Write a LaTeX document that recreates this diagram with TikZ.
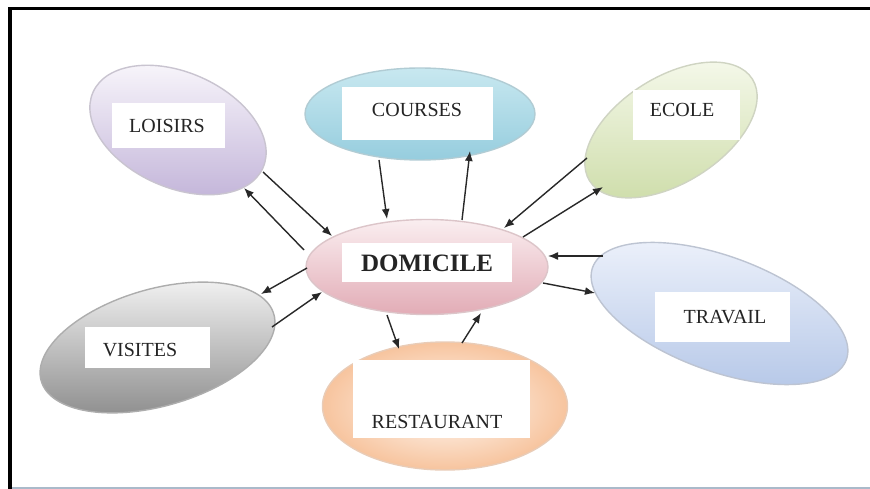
\documentclass[tikz,border=0pt]{standalone}
\usepackage{fontspec}
\setmainfont{Liberation Serif}
\usetikzlibrary{shapes.geometric,arrows.meta}

% fill colours of the bubbles
\definecolor{lavtop}{RGB}{250,248,252}
\definecolor{lavbot}{RGB}{196,182,218}
\definecolor{cyantop}{RGB}{200,232,240}
\definecolor{cyanbot}{RGB}{150,205,222}
\definecolor{greentop}{RGB}{246,249,236}
\definecolor{greenbot}{RGB}{206,221,170}
\definecolor{pinktop}{RGB}{250,238,240}
\definecolor{pinkbot}{RGB}{226,172,182}
\definecolor{peachin}{RGB}{255,250,246}
\definecolor{peachout}{RGB}{247,196,158}
\definecolor{greytop}{RGB}{246,246,246}
\definecolor{greybot}{RGB}{138,138,138}
\definecolor{bluetop}{RGB}{238,242,251}
\definecolor{bluebot}{RGB}{182,200,232}
\definecolor{inkgrey}{RGB}{36,36,36}
\definecolor{arrowgrey}{RGB}{40,40,40}
\definecolor{footgrey}{RGB}{170,186,202}

\tikzset{
  bubble/.style={ellipse, inner sep=0pt, line width=1.4pt},
  labelbox/.style={rectangle, fill=white, inner sep=0pt},
  word/.style={text=inkgrey, inner sep=0pt, font=\fontsize{20}{24}\selectfont},
  link/.style={draw=arrowgrey, line width=1.4pt, -{Latex[length=10pt,width=8pt]}},
}

\begin{document}
\begin{tikzpicture}[x=1pt,y=-1pt]
\useasboundingbox (0,0) rectangle (870,489);
\fill[white] (0,0) rectangle (870,489);

% outer frame of the sheet
\draw[line width=3.5pt] (10,489) -- (10,8.5) -- (871,8.5);
\draw[footgrey, line width=2pt] (12,488) -- (870,488);

% bubbles
\node[bubble, minimum width=186pt, minimum height=115pt, rotate=-24,
      shading angle=24, top color=lavtop, bottom color=lavbot, draw=lavbot!55!gray!60]
      (loisirs) at (178,130) {};
\node[bubble, minimum width=230pt, minimum height=92pt,
      top color=cyantop, bottom color=cyanbot, draw=cyanbot!70!gray!70]
      (courses) at (420,114) {};
\node[bubble, minimum width=192pt, minimum height=106pt, rotate=32,
      shading angle=-32, top color=greentop, bottom color=greenbot, draw=greenbot!60!gray!60]
      (ecole) at (671,130) {};
\node[bubble, minimum width=242pt, minimum height=95pt,
      top color=pinktop, bottom color=pinkbot, draw=pinkbot!70!gray!60]
      (domicile) at (427,267) {};
\node[bubble, minimum width=245pt, minimum height=128pt,
      inner color=peachin, outer color=peachout, draw=peachout!80!gray!70]
      (restaurant) at (445,406) {};
\node[bubble, minimum width=242pt, minimum height=117pt, rotate=16,
      shading angle=-16, top color=greytop, bottom color=greybot, draw=greybot!70]
      (visites) at (157.5,347.5) {};
\node[bubble, minimum width=270pt, minimum height=115pt, rotate=-20,
      shading angle=20, top color=bluetop, bottom color=bluebot, draw=bluebot!60!gray!70]
      (travail) at (719.5,313.5) {};

% white label boxes
\node[labelbox, minimum width=113pt, minimum height=45pt] (loisirsbox) at (168.5,125.5) {};
\node[labelbox, minimum width=151pt, minimum height=53pt] (coursesbox) at (417.5,113.5) {};
\node[labelbox, minimum width=107pt, minimum height=50pt] (ecolebox) at (686,115) {};
\node[labelbox, minimum width=170pt, minimum height=39pt] (domicilebox) at (427,262.5) {};
\node[labelbox, minimum width=177pt, minimum height=78pt] (restaurantbox) at (441.5,399) {};
\node[labelbox, minimum width=125pt, minimum height=41pt] (visitesbox) at (147.5,347.5) {};
\node[labelbox, minimum width=135pt, minimum height=50pt] (travailbox) at (722.5,317) {};

% labels
\node[word] (tloisirs) at (167,126) {LOISIRS};
\node[word] (tcourses) at (417,110) {COURSES};
\node[word] (tecole) at (682,110) {ECOLE};
\node[word, font=\fontsize{25}{30}\selectfont\bfseries] (tdomicile) at (427,263) {DOMICILE};
\node[word] (trestaurant) at (437,422) {RESTAURANT};
\node[word] (tvisites) at (140,350) {VISITES};
\node[word] (ttravail) at (725,317) {TRAVAIL};

% end points of the connectors on the bubble rims
\coordinate (lo1) at (263,172); \coordinate (do1) at (332,236);
\coordinate (do2) at (304,250); \coordinate (lo2) at (244,188);
\coordinate (co1) at (379,160); \coordinate (do3) at (387,219);
\coordinate (do4) at (462,220); \coordinate (co2) at (470,151);
\coordinate (ec1) at (587,158); \coordinate (do5) at (504,228);
\coordinate (do6) at (523,237); \coordinate (ec2) at (603,187);
\coordinate (tr1) at (603,256); \coordinate (do7) at (548,256);
\coordinate (do8) at (543,283); \coordinate (tr2) at (595,293);
\coordinate (do9) at (387,315); \coordinate (re1) at (399,349);
\coordinate (re2) at (462,343); \coordinate (do10) at (481,313);
\coordinate (do11) at (307,268); \coordinate (vi1) at (261,294);
\coordinate (vi2) at (272,327); \coordinate (do12) at (322,292);

% connectors
\draw[link] (lo1) -- (do1);
\draw[link] (do2) -- (lo2);
\draw[link] (co1) -- (do3);
\draw[link] (do4) -- (co2);
\draw[link] (ec1) -- (do5);
\draw[link] (do6) -- (ec2);
\draw[link] (tr1) -- (do7);
\draw[link] (do8) -- (tr2);
\draw[link] (do9) -- (re1);
\draw[link] (re2) -- (do10);
\draw[link] (do11) -- (vi1);
\draw[link] (vi2) -- (do12);
\end{tikzpicture}
\end{document}
